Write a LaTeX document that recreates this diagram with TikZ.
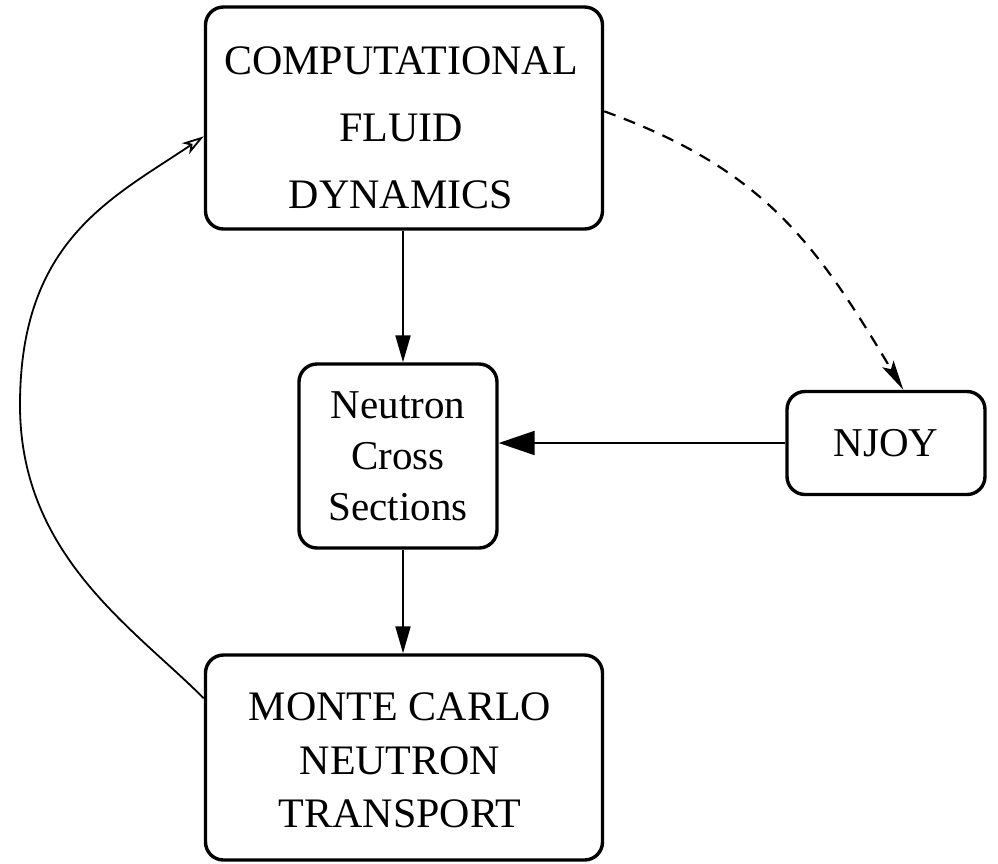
\documentclass[tikz,border=0pt]{standalone}
\usepackage{fontspec}
\setmainfont{Liberation Serif}
\usetikzlibrary{arrows.meta,calc}
\tikzset{
  boxstyle/.style={draw, line width=3.4pt, rounded corners=18pt, align=center, inner sep=0pt},
  txt/.style={align=center, inner sep=0pt},
  cfdtext/.style={txt, font=\fontsize{42pt}{67pt}\selectfont},
  midtext/.style={font=\fontsize{41pt}{51pt}\selectfont},
  mctext/.style={txt, font=\fontsize{42pt}{53.5pt}\selectfont},
  njoytext/.style={font=\fontsize{41pt}{50pt}\selectfont},
  flow/.style={line width=2pt, -{Triangle[length=27pt,width=15pt]}},
  bigflow/.style={line width=2pt, -{Triangle[length=36pt,width=24pt]}},
  dashflow/.style={line width=2.2pt, dash pattern=on 12pt off 9pt, -{Stealth[length=30pt,width=13pt,inset=6pt]}},
  backflow/.style={line width=1.8pt, -{Stealth[open,length=22pt,width=13pt,inset=6pt]}}
}
\begin{document}
\begin{tikzpicture}[x=1pt,y=-1pt]
\useasboundingbox (0,0) rectangle (998,863);
\node[boxstyle, minimum width=397pt, minimum height=222pt] (cfd) at (404,118) {};
\node[cfdtext] (cfdlabel) at ($(cfd.center)+(-3,10)$) {COMPUTATIONAL\\FLUID\\DYNAMICS};
\node[boxstyle, midtext, minimum width=198pt, minimum height=184pt] (nc) at (398,456) {Neutron\\Cross\\Sections};
\node[boxstyle, njoytext, minimum width=198pt, minimum height=103pt] (njoy) at (886,443) {NJOY};
\node[boxstyle, minimum width=397pt, minimum height=205pt] (mc) at (404,757.5) {};
\node[mctext] (mclabel) at ($(mc.center)+(-4,3)$) {MONTE CARLO\\NEUTRON\\TRANSPORT};
% straight connectors
\coordinate (ntop) at ($(nc.north)+(5,0)$);
\coordinate (nbot) at ($(nc.south)+(5,0)$);
\draw[flow] (cfd.south -| ntop) -- (ntop);
\draw[flow] (nbot) -- (mc.north -| nbot);
\draw[bigflow] (njoy.west) -- (nc.east |- njoy.west);
% dashed curve
\coordinate (ds) at ($(cfd.north east)+(0,106)$);
\coordinate (de) at ($(njoy.north west)+(118,0)$);
\draw[dashflow] (ds) .. controls ($(ds)+(160,58)$) and ($(de)+(-87,-146)$) .. (de);
% back arc
\coordinate (bs) at ($(mc.north west)+(0,45)$);
\coordinate (bl) at (20,405);
\coordinate (be) at ($(cfd.north west)+(0,131)$);
\draw[backflow] (bs) .. controls ($(bs)+(-71,-71)$) and ($(bl)+(0,150)$) .. (bl)
  .. controls ($(bl)+(0,-165)$) and ($(be)+(-92,62)$) .. (be);
\end{tikzpicture}
\end{document}
